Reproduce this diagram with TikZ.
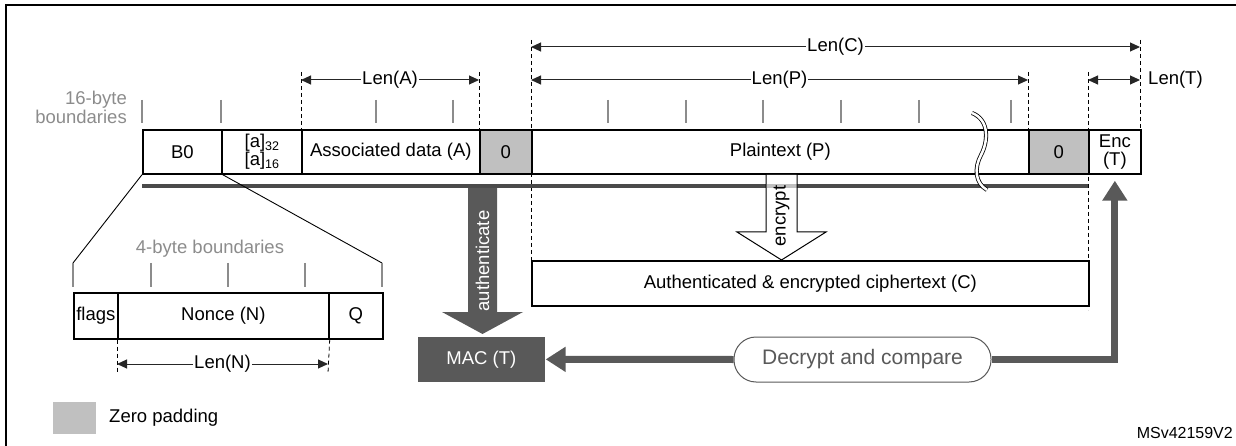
\documentclass[tikz,border=0pt]{standalone}
\usepackage{fontspec}
\setmainfont{Liberation Sans}
\usetikzlibrary{arrows.meta,calc}
\definecolor{dk}{HTML}{595959}
\definecolor{pad}{HTML}{C0C0C0}
\definecolor{tk}{HTML}{8C8C8C}
\definecolor{barc}{HTML}{4A4A4A}
\newcommand{\subnum}[1]{\raisebox{-2.5pt}{\fontsize{12.5}{12}\selectfont #1}}
\begin{document}
\begin{tikzpicture}[x=1pt,y=-1pt,
  font=\fontsize{18.5}{18}\selectfont,
  box/.style={draw=black, fill=white, line width=1.7pt, inner sep=0pt, anchor=north west, align=center},
  padbox/.style={box, fill=pad},
  tickline/.style={draw=tk, line width=1.5pt},
  ext/.style={draw=black, line width=0.8pt, dash pattern=on 4pt off 3pt},
  dim/.style={draw=black!85, line width=1pt, {Triangle[length=10pt,width=9pt]}-{Triangle[length=10pt,width=9pt]}},
  dimlbl/.style={fill=white, inner xsep=1pt, inner ysep=0pt},
  ret/.style={draw=dk, line width=7pt, -{Triangle[length=20pt,width=24pt]}}]
\useasboundingbox (0,0) rectangle (1236,446);
% frame
\draw[line width=2pt] (6,446) -- (6,5) -- (1236,5);

% dashed extension lines
\coordinate (eA1) at (301,72);
\coordinate (eA2) at (479,72);
\coordinate (eC1) at (531,40);
\coordinate (eP2) at (1028,72);
\coordinate (eT1) at (1088,72);
\coordinate (eC2) at (1140,40);
\draw[ext] (eA1) -- (301,129);
\draw[ext] (eA2) -- (479,129);
\draw[ext] (eC1) -- (531,260);
\draw[ext] (eP2) -- (1028,129);
\draw[ext] (eT1) -- (1088,310);
\draw[ext] (eC2) -- (1140,129);

% 16-byte ticks
\foreach \tx in {142,221,376,453,608,686,763,841,919,1011}
  \draw[tickline] (\tx,100) -- (\tx,123);
\node[anchor=east, align=right, text=tk, inner sep=0pt, font=\fontsize{18.5}{19}\selectfont] (lbl16) at (127,107) {16-byte\\boundaries};

% main row
\node[box, minimum width=79pt, minimum height=44pt] (b0) at (142,129) {B0};
\node[box, minimum width=80pt, minimum height=44pt] (aa) at (221,129)
  {{[a]}\subnum{32}\\{}{[a]}\subnum{16}};
\node[box, minimum width=178pt, minimum height=44pt] (asc) at (301,129) {Associated data (A)};
\node[padbox, minimum width=52pt, minimum height=44pt] (z1) at (479,129) {0};
\node[box, minimum width=497pt, minimum height=44pt] (pt) at (531,129) {Plaintext (P)};
\node[padbox, minimum width=60pt, minimum height=44pt] (z2) at (1028,129) {0};
\node[box, minimum width=52pt, minimum height=44pt] (enc) at (1088,129) {Enc\\(T)};

% dimension lines
\coordinate (dC1) at (531,47); \coordinate (dC2) at (1140,47);
\coordinate (dA1) at (301,80); \coordinate (dA2) at (479,80);
\coordinate (dP1) at (531,80); \coordinate (dP2) at (1028,80);
\coordinate (dT1) at (1088,80); \coordinate (dT2) at (1140,80);
\draw[dim] (dC1) -- node[dimlbl] (lC) {Len(C)} (dC2);
\draw[dim] (dA1) -- node[dimlbl] (lA) {Len(A)} (dA2);
\draw[dim] (dP1) -- node[dimlbl] (lP) {Len(P)} (dP2);
\draw[dim] (dT1) -- (dT2);
\node[anchor=west, inner sep=0pt] (lT) at (1148,80) {Len(T)};

% gray bar
\coordinate (barL) at (142,186);
\coordinate (barR) at (1088,186);
\draw[draw=barc, line width=4pt] (barL) -- (barR);

% wavy break
\draw[line width=0.8pt, double=white, double distance=2.5pt]
  (972,113) .. controls (990,120) and (988,142) .. (981,155)
  .. controls (974,168) and (975,183) .. (987,190);

% zoom lines
\coordinate (zl) at (73,263);
\coordinate (zr) at (382,263);
\draw[line width=0.9pt] (b0.south west) -- (zl);
\draw[line width=0.9pt] (b0.south east) -- (zr);

% 4-byte ticks
\foreach \tx in {73,151,228,305,382}
  \draw[tickline] (\tx,263) -- (\tx,287);
\node[text=tk] (lbl4) at (210,249) {4-byte boundaries};

% nonce row
\node[box, minimum width=44pt, minimum height=46pt] (flags) at (73,292) {flags};
\node[box, minimum width=211pt, minimum height=46pt] (nonce) at (117,292) {Nonce (N)};
\node[box, minimum width=54pt, minimum height=46pt] (q) at (328,292) {Q};
\draw[ext] (nonce.south west) -- (117,373);
\draw[ext] (nonce.south east) -- (328,373);
\coordinate (dN1) at (117,364); \coordinate (dN2) at (328,364);
\draw[dim] (dN1) -- node[dimlbl] (lN) {Len(N)} (dN2);

% authenticate arrow
\fill[dk] (468,188) -- (497,188) -- (497,312) -- (523,312) -- (482.5,334) -- (442,312) -- (468,312) -- cycle;
\node[rotate=90, text=white, inner sep=0pt] (auth) at (482.5,261) {authenticate};

% MAC
\node[box, draw=none, fill=dk, text=white, minimum width=127pt, minimum height=45pt] (mac) at (417,336) {MAC (T)};

% encrypt arrow
\fill[white] (766,175) -- (797,175) -- (797,232) -- (826,232) -- (781.5,260) -- (737,232) -- (766,232) -- cycle;
\fill[pad] (766.5,184) rectangle (796.5,188);
\draw[line width=1pt, line join=miter] (766,174) -- (766,232) -- (737,232) -- (781.5,260) -- (826,232) -- (797,232) -- (797,174);
\node[rotate=90, inner sep=0pt] (encl) at (781.5,216) {encrypt};

% ciphertext
\node[box, minimum width=557pt, minimum height=45pt] (ct) at (531,260) {Authenticated \& encrypted ciphertext (C)};

% decrypt and compare
\node[draw=dk, line width=1pt, rounded corners=22pt, minimum width=257pt, minimum height=45pt,
  text=dk, font=\fontsize{21}{21}\selectfont, inner sep=0pt] (dec) at (862.5,359.5) {Decrypt and compare};
\draw[ret] (dec.west) -- (mac.east);
\draw[ret] (dec.east) -| ([yshift=-6pt]enc.south);

% legend
\node[fill=pad, minimum width=43pt, minimum height=32pt, anchor=north west, inner sep=0pt] (zp) at (53,402) {};
\node[anchor=west, inner sep=0pt] (zpl) at (109,418) {Zero padding};
\node[anchor=east, inner sep=0pt, font=\fontsize{16}{16}\selectfont] (code) at (1233,433) {MSv42159V2};
\end{tikzpicture}
\end{document}
